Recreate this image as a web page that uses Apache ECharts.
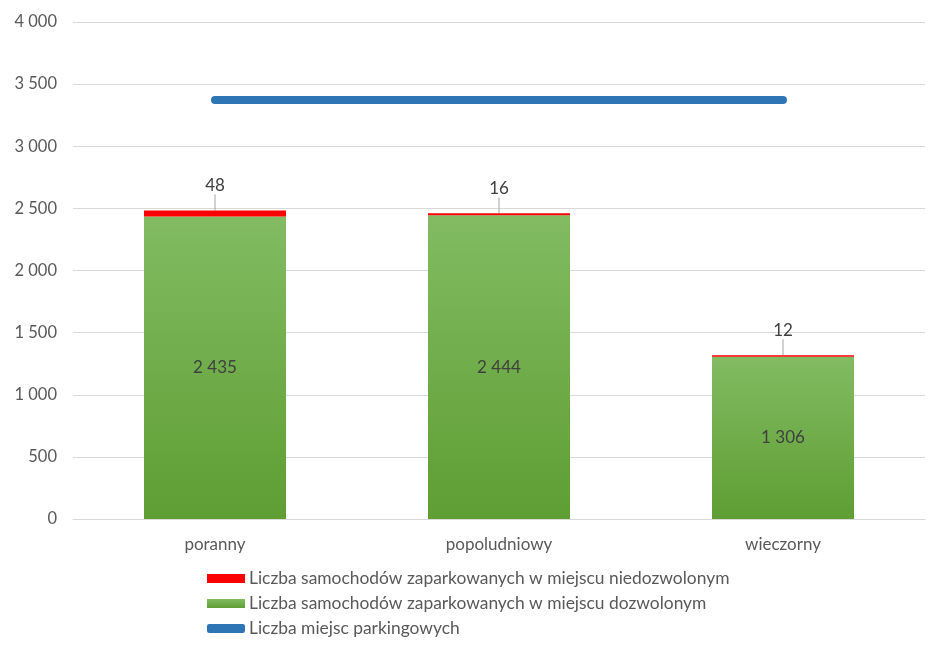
<!DOCTYPE html>
<html>
<head>
<meta charset="utf-8">
<script src="https://cdn.jsdelivr.net/npm/echarts@6/dist/echarts.min.js"></script>
<style>html,body{margin:0;padding:0;background:#fff}#c{width:945px;height:654px}</style>
</head>
<body>
<div id="c"></div>
<script>
const categories = ['poranny', 'popoludniowy', 'wieczorny'];
const allowed = [2435, 2444, 1306];
const illegal = [48, 16, 12];
const spaces = [3372, 3372, 3372];
const yTicks = { min: 0, max: 4000, interval: 500 };

const names = [
  'Liczba samochodów zaparkowanych w miejscu niedozwolonym',
  'Liczba samochodów zaparkowanych w miejscu dozwolonym',
  'Liczba miejsc parkingowych'
];
const fmt = v => String(v).replace(/\B(?=(\d{3})+(?!\d))/g, ' ');
const FONT = 'Lato, "Open Sans", sans-serif';
const chart = echarts.init(document.getElementById('c'));
chart.setOption({
  animation: false,
  textStyle: { fontFamily: FONT },
  grid: { left: 73, right: 20, top: 22, bottom: 135 },
  legend: {
    orient: 'vertical',
    left: 202,
    top: 565,
    itemGap: 8,
    itemWidth: 38,
    itemHeight: 9,
    textStyle: { color: '#595959', fontSize: 17.4, fontFamily: FONT, padding: [0, 0, 0, -1] },
    data: [
      { name: names[0], icon: 'rect' },
      { name: names[1], icon: 'rect' },
      { name: names[2], icon: 'roundRect' }
    ]
  },
  xAxis: {
    type: 'category',
    data: categories,
    axisLine: { show: true, lineStyle: { color: '#d9d9d9' } },
    axisTick: { show: false },
    axisLabel: { color: '#595959', fontSize: 17, margin: 17, fontFamily: FONT }
  },
  yAxis: {
    type: 'value',
    min: yTicks.min, max: yTicks.max, interval: yTicks.interval,
    axisLine: { show: false },
    axisTick: { show: false },
    splitLine: { lineStyle: { color: '#d9d9d9', width: 1 } },
    axisLabel: { color: '#595959', fontSize: 16.5, margin: 16, fontFamily: FONT, formatter: fmt }
  },
  series: [
    {
      name: names[1],
      type: 'bar',
      stack: 'a',
      barWidth: '50%',
      data: allowed,
      itemStyle: {
        color: new echarts.graphic.LinearGradient(0, 0, 0, 1, [
          { offset: 0, color: '#82bb62' },
          { offset: 1, color: '#5e9e33' }
        ])
      },
      label: { show: true, position: 'inside', color: '#404040', fontSize: 17, fontFamily: FONT, formatter: p => fmt(p.value) },
      z: 2
    },
    {
      name: names[0],
      type: 'bar',
      stack: 'a',
      data: illegal,
      itemStyle: { color: '#ff0000' },
      label: { show: true, position: 'top', distance: 12, color: '#404040', fontSize: 17, fontFamily: FONT },
      labelLayout: { dy: -4 },
      labelLine: { show: true, lineStyle: { color: '#a6a6a6', width: 1 } },
      z: 3
    },
    {
      name: names[2],
      type: 'line',
      data: spaces,
      symbol: 'none',
      lineStyle: { color: '#2e75b6', width: 8, cap: 'round' },
      itemStyle: { color: '#2e75b6' },
      z: 4
    }
  ]
});
</script>
</body>
</html>
